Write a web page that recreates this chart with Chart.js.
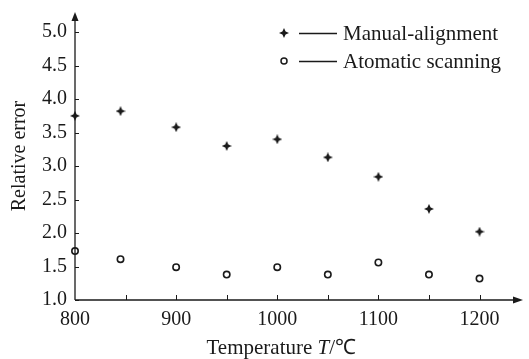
<!DOCTYPE html>
<html>
<head>
<meta charset="utf-8">
<script src="https://cdn.jsdelivr.net/npm/chart.js@4.4.0/dist/chart.umd.min.js"></script>
<style>
  html, body { margin: 0; padding: 0; background: #ffffff; }
  #wrap { width: 529px; height: 359px; }
</style>
</head>
<body>
<div id="wrap"><canvas id="chart" width="529" height="359"></canvas></div>
<script>
const temperatures = [800, 845, 900, 950, 1000, 1050, 1100, 1150, 1200];
const manualAlignment = [3.75, 3.82, 3.58, 3.30, 3.40, 3.13, 2.84, 2.36, 2.02];
const automaticScanning = [1.73, 1.61, 1.49, 1.38, 1.49, 1.38, 1.56, 1.38, 1.32];
const seriesNames = ["Manual-alignment", "Atomatic scanning"];
const yTickMax = 5.0;
const xTickMax = 1200;

const serif = "'Liberation Serif', 'Times New Roman', serif";
const ink = "#1a1a1a";

// small filled four-point star used as the marker of the first series
function makeStar(size) {
    const c = document.createElement("canvas");
    c.width = size;
    c.height = size;
    const g = c.getContext("2d");
    const m = size / 2, s = size * 0.16;
    g.fillStyle = ink;
    g.beginPath();
    g.moveTo(m, 0);
    g.lineTo(m + s, m - s);
    g.lineTo(size, m);
    g.lineTo(m + s, m + s);
    g.lineTo(m, size);
    g.lineTo(m - s, m + s);
    g.lineTo(0, m);
    g.lineTo(m - s, m - s);
    g.closePath();
    g.fill();
    return c;
}
const star = makeStar(10);

const toPoints = (ys) => temperatures.map((t, i) => ({ x: t, y: ys[i] }));

const axesWithArrows = {
    id: "axesWithArrows",
    afterDatasetsDraw: (chart) => {
        const { ctx, chartArea, scales } = chart;
        const x0 = chartArea.left, y0 = chartArea.bottom;
        ctx.save();
        ctx.strokeStyle = ink;
        ctx.fillStyle = ink;
        ctx.lineWidth = 1.3;

        ctx.beginPath();
        ctx.moveTo(x0, y0);
        ctx.lineTo(x0, chartArea.top + 6);
        ctx.moveTo(x0, y0);
        ctx.lineTo(chartArea.right - 6, y0);
        ctx.stroke();

        // arrow heads
        ctx.beginPath();
        ctx.moveTo(x0, chartArea.top);
        ctx.lineTo(x0 - 3.5, chartArea.top + 9);
        ctx.lineTo(x0 + 3.5, chartArea.top + 9);
        ctx.closePath();
        ctx.fill();
        ctx.beginPath();
        ctx.moveTo(chartArea.right, y0);
        ctx.lineTo(chartArea.right - 10, y0 - 3.5);
        ctx.lineTo(chartArea.right - 10, y0 + 3.5);
        ctx.closePath();
        ctx.fill();

        // inward tick marks
        ctx.lineWidth = 1;
        ctx.beginPath();
        scales.y.ticks.forEach((t) => {
            const py = Math.round(scales.y.getPixelForValue(t.value)) + 0.5;
            ctx.moveTo(x0, py);
            ctx.lineTo(x0 + 4, py);
        });
        scales.x.ticks.forEach((t) => {
            if (t.value === 800) return;
            const px = Math.round(scales.x.getPixelForValue(t.value)) + 0.5;
            ctx.moveTo(px, y0);
            ctx.lineTo(px, y0 - 5);
        });
        ctx.stroke();

        // x axis title with italic T
        const cx = (scales.x.getPixelForValue(800) + scales.x.getPixelForValue(1200)) / 2 + 4;
        const parts = [
            { text: "Temperature ", font: "21px " + serif },
            { text: "T", font: "italic 21px " + serif },
            { text: "/\u2103", font: "21px " + serif },
        ];
        let total = 0;
        parts.forEach((p) => { ctx.font = p.font; p.w = ctx.measureText(p.text).width; total += p.w; });
        let tx = cx - total / 2;
        ctx.textBaseline = "middle";
        ctx.textAlign = "left";
        parts.forEach((p) => { ctx.font = p.font; ctx.fillText(p.text, tx, 348); tx += p.w; });

        // legend: marker, short line, name
        const rows = [33, 61];
        ctx.font = "21px " + serif;
        rows.forEach((ry, i) => {
            if (i === 0) {
                ctx.drawImage(star, 284 - 5, ry - 5);
            } else {
                ctx.beginPath();
                ctx.lineWidth = 1.5;
                ctx.fillStyle = "#ffffff";
                ctx.arc(284, ry, 3, 0, Math.PI * 2);
                ctx.fill();
                ctx.stroke();
                ctx.fillStyle = ink;
            }
            ctx.lineWidth = 1.3;
            ctx.beginPath();
            ctx.moveTo(299, ry + 0.5);
            ctx.lineTo(337, ry + 0.5);
            ctx.stroke();
            ctx.fillText(seriesNames[i], 343, ry + 1);
        });
        ctx.restore();
    },
};

const canvas = document.getElementById("chart");
const chart = new Chart(canvas.getContext("2d"), {
    type: "scatter",
    data: {
        datasets: [
            {
                label: seriesNames[0],
                data: toPoints(manualAlignment),
                pointStyle: star,
                pointRadius: 5,
                clip: false,
            },
            {
                label: seriesNames[1],
                data: toPoints(automaticScanning),
                pointStyle: "circle",
                pointRadius: 3.2,
                borderWidth: 1.6,
                borderColor: ink,
                backgroundColor: "#ffffff",
                clip: false,
            },
        ],
    },
    options: {
        responsive: false,
        animation: false,
        events: [],
        layout: { padding: { top: 12, right: 0, left: 0, bottom: 0 } },
        plugins: { legend: { display: false }, tooltip: { enabled: false } },
        scales: {
            x: {
                type: "linear",
                min: 800,
                max: 1243,
                grid: { display: false, drawTicks: false },
                border: { display: false },
                afterFit: (scale) => {
                    scale.height = 59;
                    scale.paddingLeft = 0;
                    scale.paddingRight = 0;
                },
                afterBuildTicks: (scale) => {
                    scale.ticks = scale.ticks.filter((t) => t.value <= xTickMax);
                },
                ticks: {
                    stepSize: 50,
                    includeBounds: false,
                    padding: 8,
                    maxRotation: 0,
                    autoSkip: false,
                    color: ink,
                    font: { family: serif, size: 20 },
                    callback: (v) => (v % 100 === 0 ? String(v) : ""),
                },
            },
            y: {
                min: 1,
                max: 5.3,
                grid: { display: false, drawTicks: false },
                border: { display: false },
                afterFit: (scale) => {
                    scale.width = 75;
                    scale.paddingTop = 0;
                    scale.paddingBottom = 0;
                },
                afterBuildTicks: (scale) => {
                    scale.ticks = scale.ticks.filter((t) => t.value <= yTickMax + 1e-9);
                },
                ticks: {
                    stepSize: 0.5,
                    includeBounds: false,
                    padding: 8,
                    color: ink,
                    font: { family: serif, size: 20 },
                    callback: (v) => Number(v).toFixed(1),
                },
                title: {
                    display: true,
                    text: "Relative error",
                    color: ink,
                    font: { family: serif, size: 20 },
                    padding: { top: 8, bottom: 0 },
                },
            },
        },
    },
    plugins: [axesWithArrows],
});
</script>
</body>
</html>
